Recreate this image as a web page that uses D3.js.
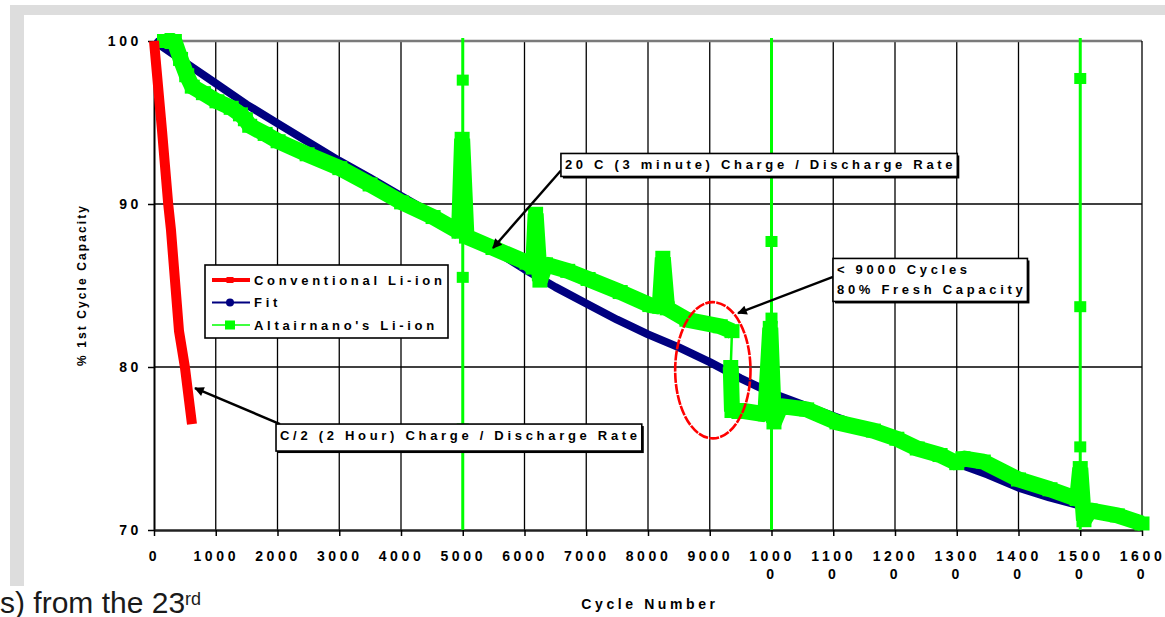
<!DOCTYPE html>
<html>
<head>
<meta charset="utf-8">
<script src="https://cdn.jsdelivr.net/npm/d3@7"></script>
<style>
  body { margin: 0; background: #fff; }
  svg text { font-family: "Liberation Sans", Arial, sans-serif; }
</style>
</head>
<body>
<div id="chart"></div>
<script>
// series names (legend order)
const seriesNames = ["Conventional Li-ion", "Fit", "Altairnano's Li-ion"];

// Conventional Li-ion, C/2 rate
const convCycles = [0, 130, 230, 275, 405, 500, 615];
const convCap = [100, 94.5, 90, 88.4, 82.2, 80, 76.5];

// Fit
const fitCycles = [0, 500, 1000, 1500, 2000, 2500, 3000, 3500, 4000, 4500, 5000, 5500, 6000, 6500, 7000, 7500,
  8000, 8500, 9000, 9500, 10000, 10500, 11000, 11500, 12000, 12500, 13000, 13500, 14000, 14500, 15000, 15500, 16000];
const fitCap = [100, 98.7, 97.4, 96.1, 94.95, 93.8, 92.65, 91.6, 90.5, 89.4, 88.3, 87.2, 86.0, 84.9, 83.9, 82.9,
  82.0, 81.2, 80.3, 79.3, 78.4, 77.7, 77.0, 76.3, 75.5, 74.8, 74.1, 73.4, 72.6, 72.0, 71.5, 71.0, 70.35];

// Altairnano's Li-ion, 20C rate (null = break in the dense run)
const altCycles = [170, 330, 430, 530, 620, 800, 1020, 1250, 1400, 1480, 1550, 1800, 2010, 2480, 3010, 3500,
  4010, 4520, 4940, 4990, 5060, 5490, 6040, 6140, 6180, 6250, 6340, 6700, 7030, 7550, 8030, 8190, 8240, 8310,
  8630, 9170, 9360, null, 9340, 9360, 9550, 9900, 9980, 10040, 10150, 10570, 11060, 11650, 12030, 12360, 12730,
  13000, 13100, 13430, 14000, 14510, 14950, 15000, 15060, 15160, 15600, 16000];
const altCap = [100, 100, 98.9, 97.9, 97.2, 96.8, 96.3, 95.9, 95.5, 95.2, 94.8, 94.3, 93.85, 93.05, 92.2, 91.2,
  90.1, 89.2, 88.3, 94.0, 88.0, 87.3, 86.4, 86.1, 89.4, 85.3, 86.3, 85.9, 85.4, 84.6, 83.8, 83.7, 86.7, 83.6,
  82.9, 82.5, 82.2, null, 80.0, 77.3, 77.3, 77.1, 82.4, 76.6, 77.6, 77.4, 76.6, 76.1, 75.6, 75.0, 74.6,
  74.1, 74.4, 74.2, 73.1, 72.5, 71.9, 73.8, 70.6, 71.2, 70.9, 70.4];

// stray readings at the 5000 / 10000 / 15000 checkups
const spikeCycles = [5000, 10000, 15000];
const spikeCap = [[97.6, 85.5, 76.2], [87.7, 83.0], [97.7, 83.7, 75.1]];

// ticks
const xTicks = [0, 1000, 2000, 3000, 4000, 5000, 6000, 7000, 8000, 9000, 10000, 11000, 12000, 13000, 14000, 15000, 16000];
const yTicks = [70, 80, 90, 100];

const W = 1165, H = 617;
const margin = { top: 41, right: 23, bottom: 87, left: 154 },
  width = W - margin.left - margin.right,
  height = H - margin.top - margin.bottom;

const ls = 3.6; // letter spacing of the bold labels

const svg = d3.select("#chart")
  .append("svg")
  .attr("width", W)
  .attr("height", H);

// grey page frame of the scanned slide
svg.append("path")
  .attr("d", "M10,5H1165V15H24V586H10Z")
  .attr("fill", "#dddddd");

const defs = svg.append("defs");
defs.append("marker")
  .attr("id", "arrow")
  .attr("viewBox", "0 0 10 10")
  .attr("refX", 9).attr("refY", 5)
  .attr("markerWidth", 5.5).attr("markerHeight", 4)
  .attr("orient", "auto")
  .append("path")
  .attr("d", "M0,0L10,5L0,10Z")
  .attr("fill", "#000");
defs.append("clipPath").attr("id", "plot-clip")
  .append("rect").attr("x", 0).attr("y", -3).attr("width", width).attr("height", height + 3);

const g = svg.append("g")
  .attr("transform", `translate(${margin.left},${margin.top})`);

const x = d3.scaleLinear().domain([0, 16000]).range([0, width]);
const y = d3.scaleLinear().domain([70, 100]).range([height, 0]);

// grid
g.append("g").selectAll("line")
  .data(xTicks.filter(d => d > 0 && d < 16000))
  .join("line")
  .attr("x1", d => x(d)).attr("x2", d => x(d))
  .attr("y1", 0).attr("y2", height)
  .attr("stroke", "#000").attr("stroke-width", 1.3);
g.append("g").selectAll("line")
  .data(yTicks.filter(d => d > 70 && d < 100))
  .join("line")
  .attr("x1", 0).attr("x2", width)
  .attr("y1", d => y(d)).attr("y2", d => y(d))
  .attr("stroke", "#000").attr("stroke-width", 1.3);

// frame top / right
g.append("line").attr("x1", 0).attr("x2", width).attr("y1", 0).attr("y2", 0)
  .attr("stroke", "#7a7a7a").attr("stroke-width", 2.5);
g.append("line").attr("x1", width).attr("x2", width).attr("y1", 0).attr("y2", height)
  .attr("stroke", "#000").attr("stroke-width", 1.3);

// axes
const yAxis = g.append("g")
  .call(d3.axisLeft(y).tickValues(yTicks).tickSize(6).tickSizeOuter(0).tickPadding(6));
yAxis.select(".domain").attr("stroke", "#000").attr("stroke-width", 2);
yAxis.selectAll(".tick line").attr("stroke", "#000").attr("stroke-width", 1.5);
yAxis.selectAll("text")
  .attr("font-size", 14).attr("font-weight", "bold")
  .attr("letter-spacing", ls + "px").attr("fill", "#000");

const xAxis = g.append("g")
  .attr("transform", `translate(0,${height})`)
  .call(d3.axisBottom(x).tickValues(xTicks).tickSize(6).tickSizeOuter(0));
xAxis.select(".domain").attr("stroke", "#222").attr("stroke-width", 2.6);
xAxis.selectAll(".tick line").attr("stroke", "#000").attr("stroke-width", 1.5);
xAxis.selectAll(".tick text")
  .attr("font-size", 14).attr("font-weight", "bold")
  .attr("letter-spacing", ls + "px").attr("fill", "#000")
  .attr("y", 31).attr("dy", 0)
  .each(function (d) {
    // long labels wrap after four digits, like the original
    const s = String(d);
    const t = d3.select(this).text(null);
    t.append("tspan").attr("x", 0).text(s.slice(0, 4));
    if (s.length > 4) t.append("tspan").attr("x", 0).attr("dy", 18).text(s.slice(4));
  });

// axis titles
svg.append("text")
  .attr("transform", "translate(86,285) rotate(-90)")
  .attr("text-anchor", "middle")
  .attr("font-size", 12).attr("font-weight", "bold")
  .attr("letter-spacing", "2.1px")
  .text("% 1st Cycle Capacity");
svg.append("text")
  .attr("x", 650).attr("y", 609)
  .attr("text-anchor", "middle")
  .attr("font-size", 14).attr("font-weight", "bold")
  .attr("letter-spacing", ls + "px")
  .text("Cycle Number");

const line = d3.line().x(d => x(d[0])).y(d => y(d[1]));

// Fit
const fitPts = fitCycles.map((c, i) => [c, fitCap[i]]);
g.append("path")
  .datum(fitPts)
  .attr("fill", "none")
  .attr("stroke", "#000080")
  .attr("stroke-width", 8)
  .attr("stroke-linejoin", "round")
  .attr("d", line);

// stray Altairnano readings: thin lines running off the chart, with single markers
const spikes = g.append("g").attr("clip-path", "url(#plot-clip)");
spikes.selectAll("line")
  .data(spikeCycles)
  .join("line")
  .attr("x1", d => x(d)).attr("x2", d => x(d))
  .attr("y1", y(100) - 3).attr("y2", y(70))
  .attr("stroke", "#00ff00").attr("stroke-width", 3);
g.append("g").selectAll("rect")
  .data(spikeCycles.flatMap((c, i) => spikeCap[i].map(v => [c, v])))
  .join("rect")
  .attr("x", d => x(d[0]) - 6).attr("y", d => y(d[1]) - 5.5)
  .attr("width", 12).attr("height", 11)
  .attr("fill", "#00ff00");

// Altairnano's Li-ion
const altPts = altCycles.map((c, i) => [c, altCap[i]]);
const altDense = altPts.filter(d => d[1] != null);
g.append("path")
  .datum(altDense)
  .attr("fill", "none")
  .attr("stroke", "#00ff00")
  .attr("stroke-width", 2.5)
  .attr("d", line);
g.append("path")
  .datum(altPts)
  .attr("fill", "none")
  .attr("stroke", "#00ff00")
  .attr("stroke-width", 16)
  .attr("stroke-linejoin", "bevel")
  .attr("d", d3.line().defined(d => d[1] != null).x(d => x(d[0])).y(d => y(d[1])));
g.append("g").selectAll("rect")
  .data(altDense)
  .join("rect")
  .attr("x", d => x(d[0]) - 7.5).attr("y", d => y(d[1]) - 7)
  .attr("width", 15).attr("height", 14)
  .attr("fill", "#00ff00");

// Conventional Li-ion
const convPts = convCycles.map((c, i) => [c, convCap[i]]);
g.append("path")
  .datum(convPts)
  .attr("fill", "none")
  .attr("stroke", "#ff0000")
  .attr("stroke-width", 10)
  .attr("d", line);

// legend
const legend = svg.append("g").attr("transform", "translate(205,265)");
legend.append("rect")
  .attr("width", 243).attr("height", 73)
  .attr("fill", "#fff").attr("stroke", "#000").attr("stroke-width", 1.6);
const legendColor = ["#ff0000", "#000080", "#00ff00"];
const legendLine = [4, 2, 1.5];
seriesNames.forEach((name, i) => {
  const row = legend.append("g").attr("transform", `translate(0,${15 + i * 22.5})`);
  row.append("line").attr("x1", 7).attr("x2", 45)
    .attr("stroke", legendColor[i]).attr("stroke-width", legendLine[i]);
  if (i === 1) {
    row.append("circle").attr("cx", 25).attr("r", 4).attr("fill", legendColor[i]);
  } else {
    const s = i === 0 ? 7 : 10;
    row.append("rect").attr("x", 25 - s / 2).attr("y", -s / 2 + 0.5)
      .attr("width", s).attr("height", s - 1).attr("fill", legendColor[i]);
  }
  row.append("text")
    .attr("x", 49).attr("dy", "0.36em")
    .attr("font-size", 13).attr("font-weight", "bold")
    .attr("letter-spacing", "3.7px")
    .text(name);
});

// red ring around the 80 % crossing
const ring = { cycle: 9050, cap: 79.8, rCycle: 610, rCap: 4.18 };
g.append("ellipse")
  .attr("cx", x(ring.cycle)).attr("cy", y(ring.cap))
  .attr("rx", x(ring.rCycle) - x(0)).attr("ry", y(100 - ring.rCap) - y(100))
  .attr("fill", "none")
  .attr("stroke", "#ff0000").attr("stroke-width", 2.6)
  .attr("stroke-dasharray", "10,1.2");

// callouts: box top-left and arrow tip in data units
const callouts = [
  { lines: ["20 C (3 minute) Charge / Discharge Rate"], box: [6590, 93.1], from: "bl", tip: [5490, 87.3], extra: 0 },
  { lines: ["< 9000 Cycles", "80% Fresh Capacity"], box: [10996, 86.66], from: "l", tip: [9458, 83.3], extra: 0 },
  { lines: ["C/2 (2 Hour) Charge / Discharge Rate"], box: [1976, 76.5], from: "tl", tip: [664, 78.7], extra: 4 }
];
callouts.forEach(c => {
  const bx = x(c.box[0]), by = y(c.box[1]);
  const cg = g.append("g");
  const shadow = cg.append("rect").attr("fill", "#000");
  const box = cg.append("rect").attr("fill", "#fff").attr("stroke", "#000").attr("stroke-width", 1.6);
  const txt = cg.append("g");
  c.lines.forEach((l, i) => {
    txt.append("text")
      .attr("x", bx + 4).attr("y", by + 16 + i * 20)
      .attr("font-size", 13).attr("font-weight", "bold")
      .attr("letter-spacing", "3.7px")
      .text(l);
  });
  const bb = txt.node().getBBox();
  const bw = bb.width + 5, bh = c.lines.length * 20 + 3 + c.extra;
  shadow.attr("x", bx + 2).attr("y", by + 2).attr("width", bw).attr("height", bh);
  box.attr("x", bx).attr("y", by).attr("width", bw).attr("height", bh);
  const start = c.from === "l" ? [bx, by + bh / 2 - 3] : c.from === "bl" ? [bx, by + bh - 6] : [bx + 4, by];
  cg.insert("line", "rect")
    .attr("x1", start[0]).attr("y1", start[1])
    .attr("x2", x(c.tip[0])).attr("y2", y(c.tip[1]))
    .attr("stroke", "#000").attr("stroke-width", 2.4)
    .attr("marker-end", "url(#arrow)");
});

// text cut from the slide underneath
const note = svg.append("text")
  .attr("x", 0).attr("y", 613)
  .attr("font-size", 30).attr("fill", "#1a1a1a");
note.append("tspan").text("s) from the 23");
note.append("tspan").attr("font-size", 18).attr("dy", -8).text("rd");
</script>
</body>
</html>
